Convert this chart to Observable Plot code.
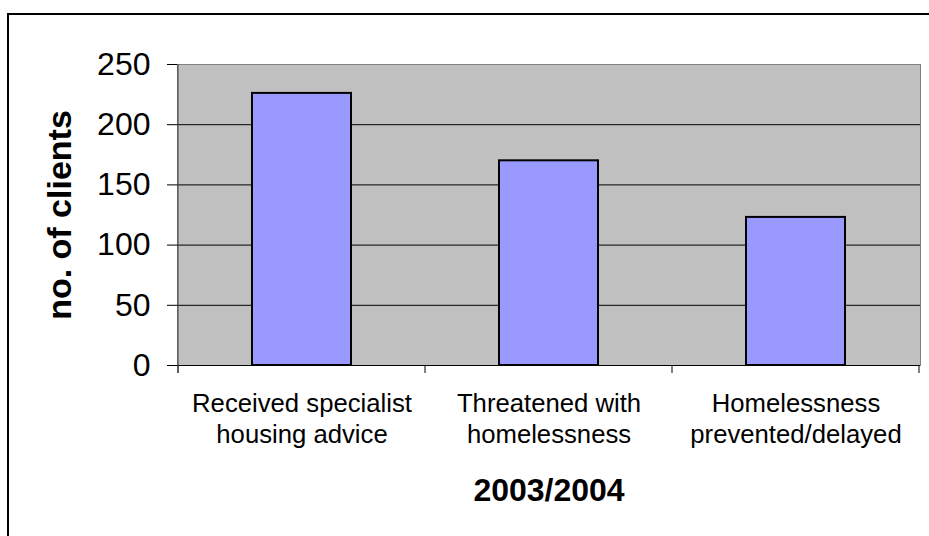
<!DOCTYPE html>
<html><head><meta charset="utf-8">
<script src="https://cdn.jsdelivr.net/npm/d3@7"></script>
<script src="https://cdn.jsdelivr.net/npm/@observablehq/plot@0.6"></script>
<style>
body{margin:0;background:#fff;overflow:hidden;}
#wrap{position:relative;width:929px;height:536px;overflow:hidden;background:#fff;}
#border{position:absolute;left:7px;top:13px;width:1000px;height:1000px;border-left:2px solid #000;border-top:2px solid #000;box-sizing:border-box;}
#chart{position:absolute;left:0;top:0;}
[aria-label="y-axis label"] text{font-size:34px;font-weight:bold;}
[aria-label="x-axis label"] text{font-size:32px;font-weight:bold;}
</style></head><body>
<div id="wrap"><div id="border"></div><div id="chart"></div></div>
<script>
const categories = ["Received specialist\nhousing advice", "Threatened with\nhomelessness", "Homelessness\nprevented/delayed"];
const values = [226, 170, 123];
const yTicks = [0, 50, 100, 150, 200, 250];
const gridTicks = [50, 100, 150, 200];
const xTitle = "2003/2004";
const yTitle = "no. of clients";

const data = categories.map((c, i) => ({category: c, value: values[i]}));

const plot = Plot.plot({
  width: 929, height: 536,
  marginLeft: 177, marginRight: 9, marginTop: 64, marginBottom: 171,
  style: {fontFamily: "'Liberation Sans', Arial, sans-serif", background: "transparent", overflow: "visible", color: "#000"},
  x: {domain: categories, paddingInner: 0.6, paddingOuter: 0.3},
  y: {domain: [0, 250]},
  marks: [
    Plot.frame({fill: "#C0C0C0", stroke: "#808080"}),
    Plot.gridY(gridTicks, {stroke: "#000", strokeOpacity: 1}),
    Plot.barY(data, {x: "category", y: "value", fill: "#9999FF", stroke: "#000", strokeWidth: 2}),
    Plot.ruleY([0], {stroke: "#000"}),
    Plot.axisY(yTicks, {tickSize: 10, tickPadding: 17, fontSize: 32, stroke: "#000", label: yTitle, labelAnchor: "center", labelOffset: 131, labelArrow: "none"}),
    Plot.axisX({tickSize: 0, tickPadding: 25, fontSize: 25.7, lineHeight: 1.2, label: xTitle, labelAnchor: "center", labelOffset: 135, labelArrow: "none"})
  ]
});

document.getElementById("chart").appendChild(plot);

// category boundary tick marks and left axis line, positioned from the plot's own scales
const xs = plot.scale("x");
const ys = plot.scale("y");
const step = xs.step ?? (xs.apply(categories[1]) - xs.apply(categories[0]));
const bw = xs.bandwidth ?? step * 0.4;
const centers = categories.map(c => xs.apply(c) + bw / 2);
const bounds = [...centers.map(c => c - step / 2), centers[centers.length - 1] + step / 2];
const y0 = ys.apply(0);
const yTop = ys.apply(250);
const svg = d3.select(plot.tagName.toLowerCase() === "svg" ? plot : plot.querySelector("svg"));
const g = svg.append("g");
g.selectAll("line.b").data(bounds).join("line")
  .attr("x1", d => d).attr("x2", d => d)
  .attr("y1", y0).attr("y2", y0 + 8)
  .attr("stroke", "#000");
g.append("line")
  .attr("x1", bounds[0]).attr("x2", bounds[0])
  .attr("y1", yTop).attr("y2", y0 + 8)
  .attr("stroke", "#404040");
</script>
</body></html>
